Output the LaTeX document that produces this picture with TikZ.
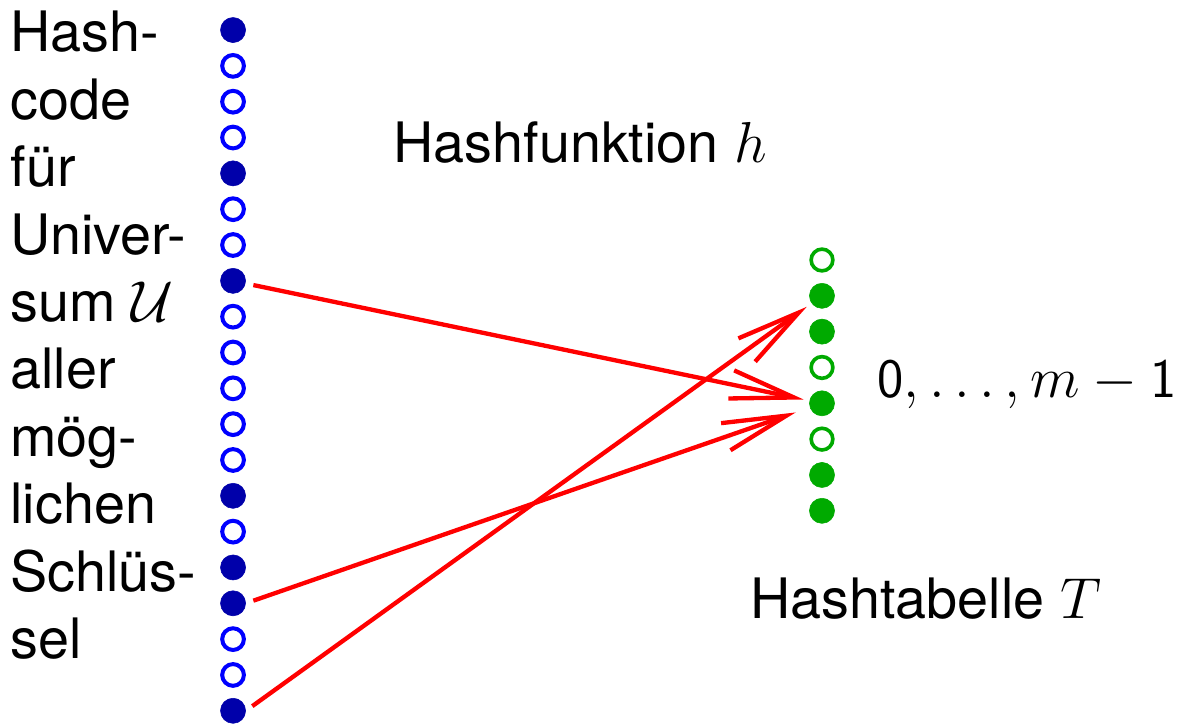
\documentclass[tikz,border=0pt]{standalone}
\usepackage{fontspec}
\setmainfont{TeX Gyre Heros}
\definecolor{hkblue}{RGB}{0,0,255}
\definecolor{hkdark}{RGB}{0,0,170}
\definecolor{htgreen}{RGB}{0,170,0}
\definecolor{hred}{RGB}{255,0,0}
\usetikzlibrary{arrows.meta, positioning}

\begin{document}
\begin{tikzpicture}[
  keyfull/.style={circle, inner sep=0pt, minimum size=9pt, fill=hkdark, draw=hkdark, line width=0.2pt},
  keyempty/.style={circle, inner sep=0pt, minimum size=7.8pt, fill=white, draw=hkblue, line width=1.44pt},
  slotfull/.style={circle, inner sep=0pt, minimum size=9pt, fill=htgreen, draw=htgreen, line width=0.2pt},
  slotempty/.style={circle, inner sep=0pt, minimum size=7.8pt, fill=white, draw=htgreen, line width=1.3pt},
  label/.style={font=\fontsize{20}{24.2}\selectfont, inner sep=0pt},
  hasharrow/.style={hred, line width=1.55pt, -{Straight Barb[length=23pt, width=10.3pt, line width=1.55pt]}},
]
  \useasboundingbox (0,0) rectangle (15,9.134);

  % Universum
  \foreach \i/\s in {1/keyfull,2/keyempty,3/keyempty,4/keyempty,5/keyfull,
                     6/keyempty,7/keyempty,8/keyfull,9/keyempty,10/keyempty,
                     11/keyempty,12/keyempty,13/keyempty,14/keyfull,15/keyempty,
                     16/keyfull,17/keyfull,18/keyempty,19/keyempty,20/keyfull}
    \node[\s] (b\i) at (2.94,{8.755-(\i-1)*0.452}) {};

  % Hashtabelle
  \foreach \j/\s in {1/slotempty,2/slotfull,3/slotfull,4/slotempty,
                     5/slotfull,6/slotempty,7/slotfull,8/slotfull}
    \node[\s] (g\j) at (10.37,{5.854-(\j-1)*0.452}) {};

  \node[label, anchor=north west, align=left] (universe) at (0.126,9.0)
    {Hash-\\code\\für\\Univer-\\sum $\mathcal{U}$\\aller\\mög-\\lichen\\Schlüs-\\sel};
  \node[label, anchor=base west] (hfun) at (4.958,7.078) {Hashfunktion $h$};
  \node[label, anchor=base west] (range) at (11.064,4.125) {$\mathsf{0},\ldots,m-\mathsf{1}$};
  \node[label, anchor=base west] (htab) at (9.46,1.337) {Hashtabelle $T$};

  % Arrows
  \draw[hasharrow, shorten <=0.1cm, shorten >=0.075cm] (b8) -- (g5);
  \draw[hasharrow, shorten <=0.1cm, shorten >=0.19cm] (b17.east) -- (g5);
  \draw[hasharrow, shorten <=0.1cm, shorten >=0.075cm] (b20.east) -- (g2);
\end{tikzpicture}
\end{document}
